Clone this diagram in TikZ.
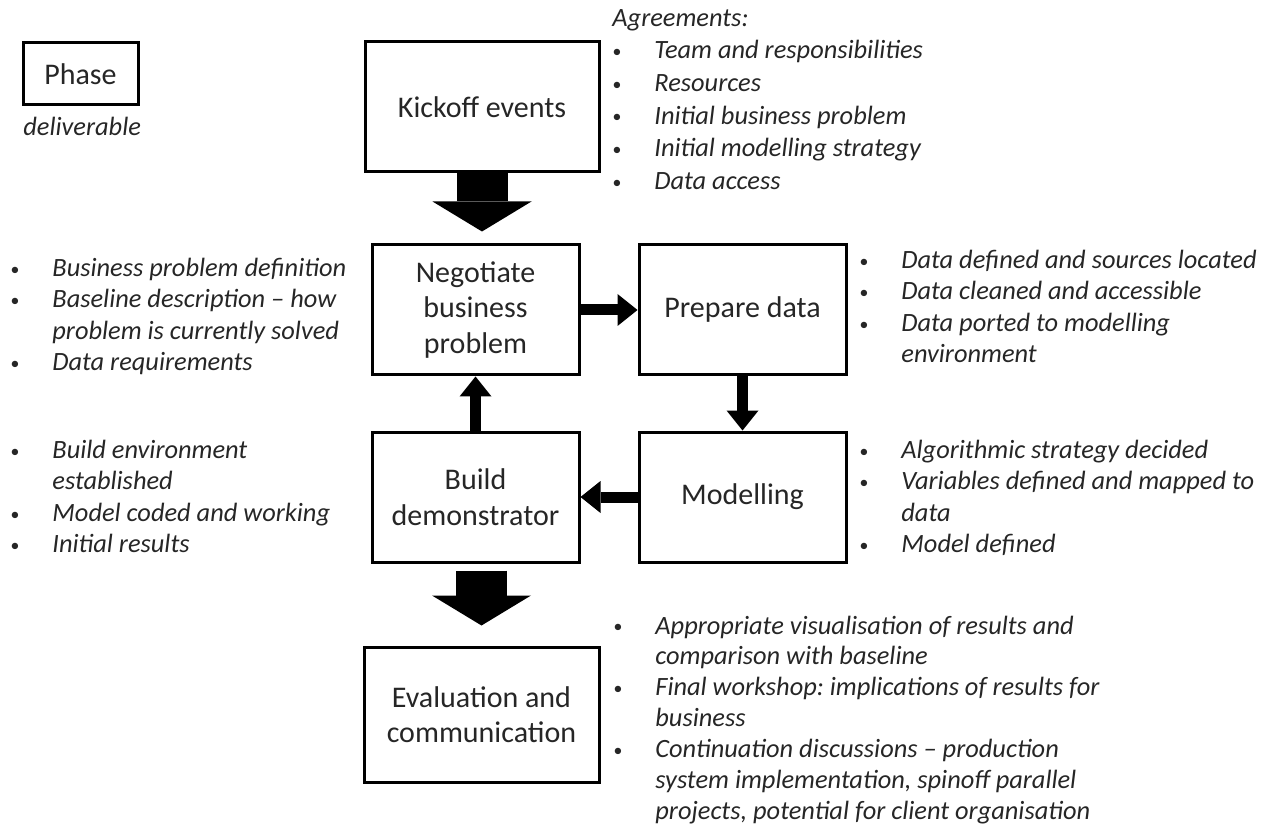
\documentclass[tikz,border=0pt]{standalone}
\usepackage{fontspec}
\setmainfont{Carlito}
\usepackage{tikz}
\usetikzlibrary{arrows.meta, positioning}
\tikzset{
  phase/.style={rectangle, draw, line width=1.5pt, minimum width=103.5pt, minimum height=65pt, align=center, text=black!85, font=\fontsize{15}{17.75}\selectfont},
  deliv/.style={inner sep=0pt, anchor=north west, text=black!85, font=\fontsize{13.2}{15.75}\selectfont\itshape\frenchspacing},
  bigarrow/.style={-{Triangle[width=49.5pt, length=15pt, line width=0pt]}, line width=25.5pt},
  arrow/.style={-{Triangle[width=16pt, length=10pt, line width=0pt]}, line width=5.5pt}
}
\newcommand{\bul}{\raisebox{0.6pt}{\fontsize{9}{9}\selectfont\textbullet}}
\newcommand{\dlist}[1]{\begin{tabular}{@{}p{21pt}@{}l@{}}#1\end{tabular}}

\begin{document}
\begin{tikzpicture}[x=0.5pt, y=-0.5pt, node distance=27pt and 28.5pt]
  \useasboundingbox (0,0) rectangle (1268,828);
  % Nodes
  \node[phase, minimum width=57.5pt, minimum height=31pt] (legend) at (80.5,74) {Phase};
  \node[phase, minimum width=117pt] (kickoff) at (482,107) {Kickoff events};
  \node[phase] (negotiate) at (475.5,310) {Negotiate\\business\\problem};
  \node[phase, right=of negotiate] (prepare) {Prepare data};
  \node[phase, below=of negotiate] (build) {Build\\demonstrator};
  \node[phase, right=of build] (modelling) {Modelling};
  \node[phase, minimum width=117.5pt, minimum height=67.5pt] (evaluation) at (481.5,714.5) {Evaluation and\\communication};

  % Deliverables
  \node[deliv, anchor=base west] (legenddel) at (23,136) {deliverable};
  \node[deliv] (kickoffdel) at (612,3) {\renewcommand{\arraystretch}{1.035}\dlist{
    \multicolumn{2}{@{}l@{}}{Agreements:}\\
    \bul & Team and responsibilities\\
    \bul & Resources\\
    \bul & Initial business problem\\
    \bul & Initial modelling strategy\\
    \bul & Data access}};
  \node[deliv] (negotiatedel) at (10,254) {\dlist{
    \bul & Business problem definition\\
    \bul & Baseline description -- how\\
    & problem is currently solved\\
    \bul & Data requirements}};
  \node[deliv] (preparedel) at (859,246) {\dlist{
    \bul & Data defined and sources located\\
    \bul & Data cleaned and accessible\\
    \bul & Data ported to modelling\\
    & environment}};
  \node[deliv] (builddel) at (10,436) {\dlist{
    \bul & Build environment\\
    & established\\
    \bul & Model coded and working\\
    \bul & Initial results}};
  \node[deliv] (modellingdel) at (859,436) {\dlist{
    \bul & Algorithmic strategy decided\\
    \bul & Variables defined and mapped to\\
    & data\\
    \bul & Model defined}};
  \node[deliv] (evaluationdel) at (613,612) {\renewcommand{\arraystretch}{0.98}\dlist{
    \bul & Appropriate visualisation of results and\\
    & comparison with baseline\\
    \bul & Final workshop: implications of results for\\
    & business\\
    \bul & Continuation discussions -- production\\
    & system implementation, spinoff parallel\\
    & projects, potential for client organisation}};

  % Connections
  \draw[bigarrow, shorten >=6pt] (kickoff.south) -- (kickoff.south |- negotiate.north);
  \draw[arrow] (negotiate) -- (prepare);
  \draw[arrow] (prepare) -- (modelling);
  \draw[arrow] (modelling) -- (build);
  \draw[arrow] (build) -- (negotiate);
  \draw[bigarrow, shorten <=3.5pt, shorten >=10pt] (evaluation.north |- build.south) -- (evaluation.north);
\end{tikzpicture}
\end{document}
